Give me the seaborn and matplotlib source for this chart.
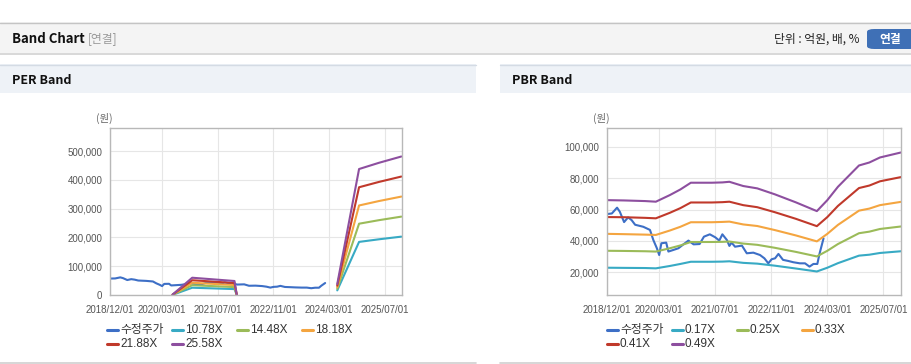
import numpy as np
import pandas as pd
import seaborn as sns
import matplotlib.pyplot as plt
from matplotlib.lines import Line2D
from matplotlib.patches import Rectangle, FancyBboxPatch
from matplotlib.ticker import FuncFormatter
import matplotlib.dates as mdates

W, H = 912, 364

# adjusted price (same series on both charts)
price_dates = ['2018-12-01', '2019-01-15', '2019-03-01', '2019-03-25', '2019-05-01', '2019-06-05',
               '2019-07-05', '2019-08-05', '2019-10-15', '2019-12-12', '2020-01-10', '2020-02-10',
               '2020-03-01', '2020-03-20', '2020-05-01', '2020-05-20', '2020-07-01', '2020-08-15',
               '2020-09-28', '2020-11-10', '2020-12-25', '2021-02-15', '2021-03-25', '2021-05-15',
               '2021-07-01', '2021-08-05', '2021-09-01', '2021-10-10', '2021-11-01', '2021-11-20',
               '2021-12-20', '2022-02-18', '2022-04-01', '2022-05-28', '2022-07-25', '2022-09-01',
               '2022-10-05', '2022-11-03', '2022-12-03', '2023-01-01', '2023-02-10', '2023-03-28',
               '2023-05-10', '2023-07-06', '2023-08-20', '2023-09-28', '2023-11-01', '2023-12-05',
               '2023-12-25', '2024-01-28']
price_vals = [57100, 57500, 61200, 58600, 52000, 55000, 53300, 50300, 49000, 47000,
              40600, 35300, 31000, 38500, 38900, 33200, 34200, 35300, 37800, 40200,
              37800, 38000, 42700, 44200, 42300, 40200, 44200, 40600, 36800, 38900,
              36300, 37000, 32100, 32500, 31000, 28900, 25700, 28300, 28900, 31700,
              27900, 27200, 26400, 25700, 25700, 23600, 25300, 25300, 32100, 41600]

# PER band (two separate stretches)
per_labels = ['10.78X', '14.48X', '18.18X', '21.88X', '25.58X']
per_dates = ['2020-06-01', '2020-11-20', '2021-11-25', '2021-12-15',
             '2024-05-13', '2024-11-20', '2025-05-12', '2025-11-25']
per_segs = [1, 1, 1, 1, 2, 2, 2, 2]
per_1078 = [600, 25300, 20500, 600, 16000, 184400, 193400, 202700]
per_1448 = [800, 34000, 27500, 800, 21500, 247600, 259800, 272200]
per_1818 = [1000, 42600, 34500, 1000, 27000, 310900, 326200, 341800]
per_2188 = [1200, 51300, 41600, 1200, 32500, 374200, 392600, 411400]
per_2558 = [1500, 60000, 48600, 1500, 38000, 437500, 459000, 481000]

# PBR band
pbr_labels = ['0.17X', '0.25X', '0.33X', '0.41X', '0.49X']
pbr_dates = ['2018-12-01', '2019-05-01', '2019-11-01', '2020-02-01', '2020-06-01', '2020-09-01',
             '2020-12-01', '2021-06-01', '2021-09-01', '2021-11-01', '2022-03-01', '2022-07-01',
             '2022-12-01', '2023-06-01', '2023-12-01', '2024-03-01', '2024-06-01', '2024-12-01',
             '2025-03-01', '2025-06-01', '2025-12-01']
pbr_017 = [22900, 22800, 22700, 22500, 24000, 25300, 26700, 26700, 26800, 27000, 26000,
           25500, 24200, 22400, 20500, 22900, 25800, 30600, 31200, 32300, 33400]
pbr_025 = [33700, 33600, 33400, 33200, 35300, 37100, 39300, 39300, 39400, 39600, 38300,
           37500, 35600, 33000, 30100, 33700, 38000, 44900, 45900, 47600, 49200]
pbr_033 = [44500, 44300, 44000, 43800, 46600, 49000, 51900, 51900, 52100, 52300, 50500,
           49500, 46900, 43500, 39700, 44500, 50200, 59300, 60600, 62800, 64900]
pbr_041 = [55200, 55100, 54700, 54400, 57900, 60900, 64500, 64500, 64700, 65000, 62800,
           61500, 58300, 54100, 49400, 55200, 62300, 73700, 75300, 78000, 80700]
pbr_049 = [66000, 65800, 65400, 65000, 69200, 72800, 77100, 77100, 77300, 77700, 75000,
           73500, 69700, 64600, 59000, 66000, 74500, 88100, 90000, 93200, 96400]

x_ticks = ['2018-12-01', '2020-03-01', '2021-07-01', '2022-11-01', '2024-03-01', '2025-07-01']
per_yticks = [0, 100000, 200000, 300000, 400000, 500000]
pbr_yticks = [20000, 40000, 60000, 80000, 100000]

price_name = '수정주가'
colors = ['#3d6fc6', '#38aac4', '#9bbb59', '#f4a540', '#c0392b', '#8d4f9f']

sns.set_style('white')
plt.rcParams['font.family'] = ['Liberation Sans', 'Noto Sans CJK KR']
KR = ['Noto Sans CJK KR', 'DejaVu Sans']


def fx(x):
    return x / W


def fy(y):
    return 1 - y / H


fig = plt.figure(figsize=(W / 100, H / 100), dpi=100)


def rect(x0, y0, x1, y1, color, z=0):
    fig.add_artist(Rectangle((fx(x0), fy(y1)), (x1 - x0) / W, (y1 - y0) / H,
                             transform=fig.transFigure, color=color, lw=0, zorder=z))


def hline(x0, x1, y, color, lw=0.8):
    fig.add_artist(Line2D([fx(x0), fx(x1)], [fy(y), fy(y)], transform=fig.transFigure,
                          color=color, lw=lw))


# page header
rect(0, 22, W, 53, '#f4f4f4')
hline(0, W, 22.5, '#c4c4c4', 1.0)
hline(0, W, 53.5, '#d2d2d2', 1.2)
fig.text(fx(12), fy(39), 'Band Chart', fontsize=9.5, fontweight='bold', family=KR,
         color='#111111', va='center')
fig.text(fx(88), fy(39), '[연결]', fontsize=8.5, family=KR, color='#999999', va='center')
fig.text(fx(860), fy(39), '단위 : 억원, 배, %', fontsize=8.5, family=KR, color='#222222',
         va='center', ha='right')
fig.add_artist(FancyBboxPatch((fx(867), fy(49)), 50 / W, 20 / H, transform=fig.transFigure,
                              boxstyle='round,pad=0,rounding_size=0.008', color='#3f70b6', lw=0))
fig.text(fx(890), fy(39), '연결', fontsize=8.5, fontweight='bold', family=KR, color='white',
         va='center', ha='center')

# panel headers
for x0, x1, title in [(0, 476, 'PER Band'), (500, W, 'PBR Band')]:
    rect(x0, 64, x1, 93, '#eef2f7')
    hline(x0, x1, 64.5, '#d4dbe4', 1.0)
    hline(x0, x1, 362.5, '#d0d0d0', 1.2)
    fig.text(fx(x0 + 12), fy(80), title, fontsize=9, fontweight='bold', family=KR,
             color='#111111', va='center')


def band_frame(dates, segs, labels, series):
    parts = [pd.DataFrame({'date': pd.to_datetime(price_dates), 'value': price_vals,
                           'series': price_name, 'seg': 0})]
    for lab, vals in zip(labels, series):
        parts.append(pd.DataFrame({'date': pd.to_datetime(dates), 'value': vals,
                                   'series': lab, 'seg': segs}))
    return pd.concat(parts, ignore_index=True)


def draw_chart(left, right, df, labels, yticks, ylim, unit_x, legend_x):
    ax = fig.add_axes([fx(left), fy(295), (right - left) / W, (295 - 128) / H])
    names = [price_name] + labels
    sns.lineplot(data=df, x='date', y='value', hue='series', units='seg', estimator=None,
                 hue_order=names, palette=dict(zip(names, colors)), linewidth=1.5,
                 legend=False, ax=ax)
    ax.set_xlim(pd.Timestamp('2018-12-01'), pd.Timestamp('2025-12-01'))
    ax.set_ylim(*ylim)
    ax.set_xticks(pd.to_datetime(x_ticks))
    ax.xaxis.set_major_formatter(mdates.DateFormatter('%Y/%m/%d'))
    ax.set_yticks(yticks)
    ax.yaxis.set_major_formatter(FuncFormatter(lambda v, p: f'{int(v):,}'))
    ax.set_xlabel('')
    ax.set_ylabel('')
    ax.grid(True, color='#e6e6e6', lw=0.8)
    ax.set_axisbelow(True)
    for s in ax.spines.values():
        s.set_color('#b8b8b8')
        s.set_linewidth(1.0)
    ax.tick_params(axis='both', length=4, width=0.8, color='#b8b8b8', labelsize=7,
                   labelcolor='#555555')
    ax.tick_params(axis='y', pad=1.5)
    ax.tick_params(axis='x', pad=3)
    fig.text(fx(unit_x), fy(118), '(원)', fontsize=7.5, family=KR, color='#666666',
             va='center', ha='center')

    for i, (name, c) in enumerate(zip(names, colors)):
        x = legend_x + (i % 4) * 65
        y = 330 + (i // 4) * 14
        fig.add_artist(Line2D([fx(x), fx(x + 11)], [fy(y), fy(y)], transform=fig.transFigure,
                              color=c, lw=2.2))
        fig.text(fx(x + 13), fy(y), name, fontsize=8.5, color='#333333', va='center', ha='left')
    return ax


per_df = band_frame(per_dates, per_segs, per_labels,
                    [per_1078, per_1448, per_1818, per_2188, per_2558])
pbr_df = band_frame(pbr_dates, 1, pbr_labels, [pbr_017, pbr_025, pbr_033, pbr_041, pbr_049])

draw_chart(110, 402, per_df, per_labels, per_yticks, (0, 580000), 104, 107)
draw_chart(606.7, 901, pbr_df, pbr_labels, pbr_yticks, (5500, 112000), 601, 607)

fig.savefig('out.png', dpi=100)
